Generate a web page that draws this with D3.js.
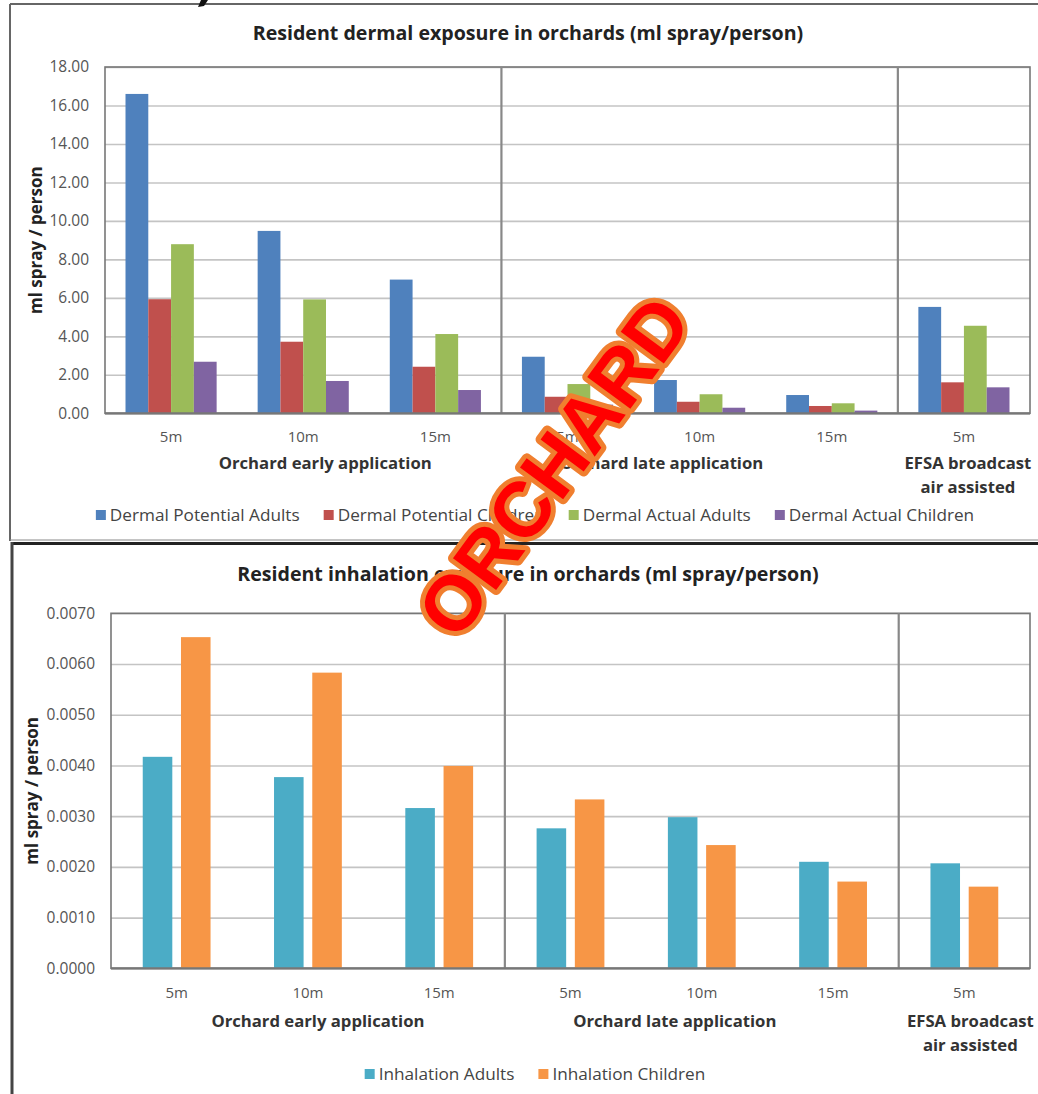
<!DOCTYPE html>
<html>
<head>
<meta charset="utf-8">
<script src="https://cdn.jsdelivr.net/npm/d3@7"></script>
<style>
  body { margin: 0; background: #fff; }
  svg text { font-family: "Open Sans", "Liberation Sans", sans-serif; }
</style>
</head>
<body>
<div id="chart"></div>
<script>
// categories / groups shared by both charts
const distances = ["5m", "10m", "15m", "5m", "10m", "15m", "5m"];
const groupNames = [["Orchard early application"], ["Orchard late application"], ["EFSA broadcast", "air assisted"]];
const groupSizes = [3, 3, 1];

// dermal exposure (ml spray / person)
const dermalSeries = ["Dermal Potential Adults", "Dermal Potential Children", "Dermal Actual Adults", "Dermal Actual Children"];
const dermalPotentialAdults = [16.60, 9.48, 6.95, 2.94, 1.73, 0.95, 5.53];
const dermalPotentialChildren = [5.93, 3.72, 2.42, 0.86, 0.60, 0.38, 1.61];
const dermalActualAdults = [8.79, 5.92, 4.12, 1.52, 0.99, 0.52, 4.55];
const dermalActualChildren = [2.68, 1.68, 1.21, 0.45, 0.29, 0.14, 1.35];
const dermalTicks = [0, 2, 4, 6, 8, 10, 12, 14, 16, 18];

// inhalation exposure (ml spray / person)
const inhalationSeries = ["Inhalation Adults", "Inhalation Children"];
const inhalationAdults = [0.00417, 0.00377, 0.00316, 0.00276, 0.00298, 0.00210, 0.00207];
const inhalationChildren = [0.00653, 0.00583, 0.00399, 0.00333, 0.00243, 0.00171, 0.00161];
const inhalationTicks = [0, 0.001, 0.002, 0.003, 0.004, 0.005, 0.006, 0.007];

var width = 1038, height = 1094;

const svg = d3.select("#chart")
    .append("svg")
    .attr("width", width)
    .attr("height", height);

// panel frames
svg.append("line").attr("x1", 10).attr("x2", width).attr("y1", 4).attr("y2", 4)
    .attr("stroke", "#666").attr("stroke-width", 2);
svg.append("line").attr("x1", 10).attr("x2", 10).attr("y1", 4).attr("y2", 541)
    .attr("stroke", "#666").attr("stroke-width", 2);
svg.append("line").attr("x1", 10).attr("x2", width).attr("y1", 540).attr("y2", 540)
    .attr("stroke", "#888").attr("stroke-width", 1);
svg.append("line").attr("x1", 11).attr("x2", width).attr("y1", 543.5).attr("y2", 543.5)
    .attr("stroke", "#222").attr("stroke-width", 3);
svg.append("line").attr("x1", 12).attr("x2", 12).attr("y1", 542).attr("y2", height)
    .attr("stroke", "#444").attr("stroke-width", 3);

// tail of a cut-off glyph above the top frame
svg.append("path")
    .attr("d", "M201,0 L208,0 L204,6 L198,7 Z")
    .attr("fill", "#111");

function drawChart(cfg) {
    var m = cfg.margin;
    var g = svg.append("g");

    var x0 = d3.scaleBand()
        .domain(d3.range(distances.length))
        .range([m.left, m.right])
        .paddingInner(0).paddingOuter(0);

    var x1 = d3.scaleBand()
        .domain(d3.range(cfg.series.length))
        .range([0, x0.bandwidth()])
        .paddingInner(cfg.innerPad)
        .paddingOuter(cfg.outerPad);

    var y = d3.scaleLinear()
        .domain([0, d3.max(cfg.ticks)])
        .range([m.bottom, m.top]);

    // title
    g.append("text")
        .attr("x", 528).attr("y", cfg.titleY)
        .attr("text-anchor", "middle")
        .attr("font-size", 19.6).attr("font-weight", "bold").attr("fill", "#222")
        .text(cfg.title);

    // gridlines
    g.append("g")
        .attr("transform", `translate(${m.left},0)`)
        .call(d3.axisLeft(y).tickValues(cfg.ticks).tickSize(-(m.right - m.left)).tickFormat(""))
        .call(a => a.select(".domain").remove())
        .call(a => a.selectAll("line").attr("stroke", "#c4c4c4").attr("stroke-width", 1.6));

    // tick labels
    g.append("g")
        .attr("transform", `translate(${m.left - 13},0)`)
        .call(d3.axisLeft(y).tickValues(cfg.ticks).tickSize(0).tickFormat(d3.format(cfg.fmt)))
        .call(a => a.select(".domain").remove())
        .call(a => a.selectAll("text").attr("font-size", 15.5).attr("fill", "#555")
            .style("font-family", "Open Sans"));

    // plot border
    g.append("rect")
        .attr("x", m.left).attr("y", m.top)
        .attr("width", m.right - m.left).attr("height", m.bottom - m.top)
        .attr("fill", "none").attr("stroke", "#777").attr("stroke-width", 1.6);

    // group separators
    var cum = 0;
    groupSizes.slice(0, -1).forEach(function(n) {
        cum += n;
        var sx = x0(cum);
        g.append("line")
            .attr("x1", sx).attr("x2", sx).attr("y1", m.top).attr("y2", m.bottom)
            .attr("stroke", "#888").attr("stroke-width", 2.2);
    });

    // bars
    var rows = distances.map(function(d, i) {
        return cfg.values.map(function(v, s) { return {cat: i, s: s, value: v[i]}; });
    });
    g.selectAll("g.cat")
        .data(rows)
        .enter()
        .append("g")
        .attr("class", "cat")
        .attr("transform", (d, i) => `translate(${x0(i)},0)`)
        .selectAll("rect")
        .data(d => d)
        .enter()
        .append("rect")
        .attr("x", d => x1(d.s))
        .attr("y", d => y(d.value))
        .attr("width", x1.bandwidth())
        .attr("height", d => y(0) - y(d.value))
        .attr("fill", d => cfg.colors[d.s]);

    // bottom axis line
    g.append("line")
        .attr("x1", m.left).attr("x2", m.right).attr("y1", y(0)).attr("y2", y(0))
        .attr("stroke", "#777").attr("stroke-width", 2.2);

    // distance labels
    g.selectAll("text.dist")
        .data(distances)
        .enter()
        .append("text")
        .attr("class", "dist")
        .attr("x", (d, i) => x0(i) + x0.bandwidth() / 2)
        .attr("y", cfg.distY)
        .attr("text-anchor", "middle")
        .attr("font-size", 15).attr("fill", "#555")
        .text(d => d);

    // group labels
    var start = 0;
    groupSizes.forEach(function(n, gi) {
        var cx = (x0(start) + x0(start + n - 1) + x0.bandwidth()) / 2 + cfg.groupShift[gi];
        start += n;
        groupNames[gi].forEach(function(line, li) {
            g.append("text")
                .attr("x", cx).attr("y", cfg.groupY + li * 24)
                .attr("text-anchor", "middle")
                .attr("font-size", 16.7).attr("font-weight", "bold").attr("fill", "#333")
                .text(line);
        });
    });

    // y axis title
    g.append("text")
        .attr("transform", `translate(${cfg.yTitleX},${(m.top + m.bottom) / 2}) rotate(-90)`)
        .attr("text-anchor", "middle")
        .attr("font-size", 17).attr("font-weight", "bold").attr("fill", "#222")
        .text("ml spray / person");

    // legend, laid out left to right and centred
    var leg = g.append("g");
    var lx = 0;
    cfg.series.forEach(function(name, i) {
        var it = leg.append("g").attr("transform", `translate(${lx},0)`);
        it.append("rect").attr("x", 0).attr("y", -5).attr("width", 10).attr("height", 10)
            .attr("fill", cfg.colors[i]);
        var t = it.append("text").attr("x", 14).attr("y", 6)
            .attr("font-size", 17.2).attr("fill", "#444").text(name);
        lx += 14 + t.node().getComputedTextLength() + 24;
    });
    lx -= 24;
    leg.attr("transform", `translate(${535 - lx / 2},${cfg.legendY})`);
}

drawChart({
    title: "Resident dermal exposure in orchards (ml spray/person)",
    titleY: 40,
    margin: {left: 105, right: 1030, top: 67, bottom: 413.3},
    series: dermalSeries,
    values: [dermalPotentialAdults, dermalPotentialChildren, dermalActualAdults, dermalActualChildren],
    colors: ["#4f81bd", "#c0504d", "#9bbb59", "#8064a2"],
    ticks: dermalTicks,
    fmt: ".2f",
    innerPad: 0, outerPad: 0.9,
    distY: 442, groupY: 469, groupShift: [22, -38, 4],
    yTitleX: 42,
    legendY: 515
});

drawChart({
    title: "Resident inhalation exposure in orchards (ml spray/person)",
    titleY: 581,
    margin: {left: 111, right: 1030, top: 613.3, bottom: 968.3},
    series: inhalationSeries,
    values: [inhalationAdults, inhalationChildren],
    colors: ["#4bacc6", "#f79646"],
    ticks: inhalationTicks,
    fmt: ".4f",
    innerPad: 0.227, outerPad: 0.83,
    distY: 998, groupY: 1027, groupShift: [10, -27, 6],
    yTitleX: 38,
    legendY: 1074
});

// ORCHARD stamp across the two panels
svg.append("text")
    .attr("transform", "translate(553,466) rotate(-53.5)")
    .attr("text-anchor", "middle")
    .attr("dy", "0.36em")
    .style("font-family", "Liberation Sans")
    .style("font-weight", "bold")
    .attr("font-size", 78)
    .attr("fill", "#ff0000")
    .attr("stroke", "#f07f2f")
    .attr("stroke-width", 10)
    .attr("stroke-linejoin", "round")
    .attr("paint-order", "stroke")
    .text("ORCHARD");
</script>
</body>
</html>
